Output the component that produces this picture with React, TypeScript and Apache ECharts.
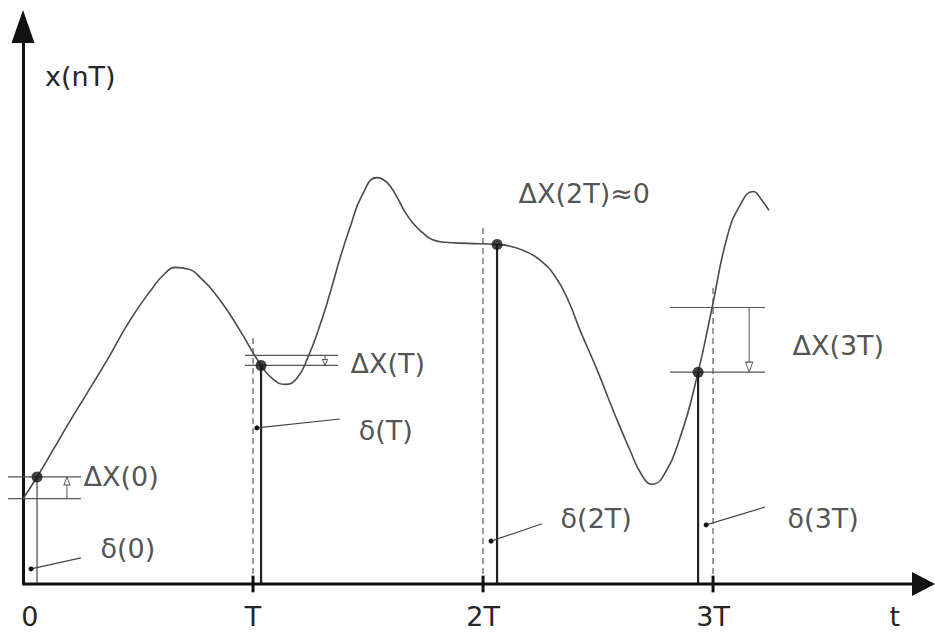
import React, { useEffect, useRef } from "react";
import * as echarts from "echarts";

// Continuous signal x(t): t in units of T, x in arbitrary amplitude units
const curveT = [0, 0.061, 0.130, 0.204, 0.278, 0.365, 0.465, 0.565, 0.617, 0.661, 0.717, 0.770, 0.857, 0.943, 1.035, 1.083, 1.139, 1.191, 1.239, 1.291, 1.335, 1.378, 1.422, 1.474, 1.539, 1.583, 1.626, 1.661, 1.696, 1.735, 1.778, 1.835, 1.930, 2.061, 2.117, 2.183, 2.248, 2.313, 2.370, 2.422, 2.496, 2.565, 2.639, 2.691, 2.735, 2.778, 2.857, 2.935, 2.996, 3.061, 3.117, 3.174, 3.213, 3.243];
const curveX = [1.53, 1.92, 2.40, 2.92, 3.42, 4.01, 4.73, 5.32, 5.57, 5.68, 5.65, 5.50, 5.09, 4.55, 3.92, 3.69, 3.58, 3.69, 4.07, 4.64, 5.22, 5.84, 6.40, 6.97, 7.29, 7.20, 6.94, 6.67, 6.47, 6.31, 6.18, 6.13, 6.11, 6.09, 6.06, 5.97, 5.81, 5.52, 5.09, 4.55, 3.84, 3.12, 2.40, 1.95, 1.79, 1.90, 2.63, 3.80, 4.96, 6.22, 6.79, 7.04, 6.88, 6.70];

// Actual sampling instants and sampled values
const sampleT = [0.061, 1.035, 2.061, 2.935];
const sampleX = [1.92, 3.92, 6.09, 3.80];
const sampleWidth = [1.3, 2.2, 2.2, 2.2];

// Ideal sampling instants nT (dashed) and the height of the dashed markers
const idealT = [1, 2, 3];
const idealTop = [4.46, 6.43, 5.36];

// Delta X brackets (for samples 0, 1, 3): ideal value, span and arrow
const bracketIdx = [0, 1, 3];
const bracketIdeal = [1.53, 4.10, 4.96];
const bracketFrom = [-0.065, 0.965, 2.813];
const bracketTo = [0.252, 1.370, 3.226];
const bracketArrowT = [0.191, 1.313, 3.157];
const bracketArrowSize = [[6, 8], [5, 6], [7, 10]];

// Leader lines for delta labels
const dotT = [0.035, 1.017, 2.035, 2.970];
const dotX = [0.27, 2.80, 0.77, 1.06];
const leaderEndT = [0.252, 1.378, 2.257, 3.226];
const leaderEndX = [0.47, 2.96, 1.08, 1.38];

// Text labels
const deltaXLabels = ["ΔX(0)", "ΔX(T)", "ΔX(2T)≈0", "ΔX(3T)"];
const deltaXLabelT = [0.261, 1.422, 2.152, 3.343];
const deltaXLabelX = [1.92, 3.96, 7.01, 4.28];
const deltaLabels = ["δ(0)", "δ(T)", "δ(2T)", "δ(3T)"];
const deltaLabelT = [0.335, 1.457, 2.335, 3.322];
const deltaLabelX = [0.645, 2.76, 1.18, 1.18];

// Axis range and tick labels
const tMin = -0.07;
const tMax = 3.915;
const tickPos = [0.03, 1, 2, 3, 3.79];
const tickNames = ["0", "T", "2T", "3T", "t"];
const tickMarks = [1, 2, 3];

const FONT = "DejaVu Sans";
const TEXT = "#262626";

export default function App() {
  const ref = useRef<HTMLDivElement>(null);

  useEffect(() => {
    if (!ref.current) return;
    const chart = echarts.init(ref.current, undefined, { renderer: "svg" });

    const thin = { color: "#555", width: 1.2, type: "solid" as const };
    const series: any[] = [];

    const seg = (pts: number[][], lineStyle: any, z = 3) => ({
      type: "line",
      data: pts,
      symbol: "none",
      clip: false,
      silent: true,
      z,
      lineStyle,
    });

    // t axis line with arrow head
    series.push({
      type: "line",
      clip: false,
      silent: true,
      z: 10,
      symbol: "triangle",
      showSymbol: true,
      data: [
        { value: [0, 0], symbol: "none" },
        { value: [tMax, 0], symbol: "triangle", symbolSize: [24, 23], symbolRotate: -90 },
      ],
      lineStyle: { color: "#111", width: 3 },
      itemStyle: { color: "#111" },
    });

    // curve
    series.push({
      type: "line",
      data: curveT.map((t, i) => [t, curveX[i]]),
      smooth: 0.5,
      symbol: "none",
      clip: false,
      silent: true,
      z: 4,
      lineStyle: { color: "#4a4a4a", width: 1.6 },
    });

    // dashed ideal sampling lines
    idealT.forEach((t, i) => {
      series.push(seg([[t, 0], [t, idealTop[i]]], { color: "#666", width: 1.3, type: [6, 4] }, 2));
    });

    // solid lines at actual sampling instants
    sampleT.forEach((t, i) => {
      series.push(seg([[t, 0], [t, sampleX[i]]], { color: i === 0 ? "#555" : "#222", width: sampleWidth[i] }, 3));
    });

    // tick marks crossing the t axis
    tickMarks.forEach((t) => {
      series.push(seg([[t, -0.15], [t, 0.15]], { color: "#111", width: 3 }, 11));
    });

    // brackets
    bracketIdx.forEach((si, k) => {
      const from = bracketFrom[k];
      const to = bracketTo[k];
      series.push(seg([[from, bracketIdeal[k]], [to, bracketIdeal[k]]], thin, 3));
      series.push(seg([[from, sampleX[si]], [to, sampleX[si]]], thin, 3));
      const up = sampleX[si] > bracketIdeal[k];
      const [w, h] = bracketArrowSize[k];
      series.push({
        type: "line",
        clip: false,
        silent: true,
        z: 5,
        symbol: "triangle",
        showSymbol: true,
        data: [
          { value: [bracketArrowT[k], bracketIdeal[k]], symbol: "none" },
          {
            value: [bracketArrowT[k], sampleX[si]],
            symbol: "triangle",
            symbolSize: [w, h],
            symbolRotate: up ? 0 : 180,
            symbolOffset: [0, up ? h / 2 : -h / 2],
          },
        ],
        lineStyle: { color: "#555", width: 1 },
        itemStyle: { color: "#fff", borderColor: "#555", borderWidth: 1 },
      });
    });

    // leader lines with dots
    dotT.forEach((t, i) => {
      series.push({
        type: "line",
        clip: false,
        silent: true,
        z: 5,
        symbol: "circle",
        symbolSize: 5,
        showSymbol: true,
        data: [
          { value: [t, dotX[i]] },
          { value: [leaderEndT[i], leaderEndX[i]], symbol: "none" },
        ],
        lineStyle: { color: "#444", width: 1.2 },
        itemStyle: { color: "#111" },
      });
    });

    // sampled points
    series.push({
      type: "scatter",
      data: sampleT.map((t, i) => [t, sampleX[i]]),
      symbolSize: 11,
      clip: false,
      silent: true,
      z: 8,
      itemStyle: { color: "#111" },
    });

    // text labels
    const labelSeries = (names: string[], ts: number[], xs: number[]) => ({
      type: "scatter",
      clip: false,
      silent: true,
      z: 9,
      symbolSize: 1,
      itemStyle: { color: "rgba(0,0,0,0)" },
      data: names.map((n, i) => ({ name: n, value: [ts[i], xs[i]] })),
      label: {
        show: true,
        position: "right",
        distance: 0,
        formatter: (p: any) => p.name,
        fontFamily: FONT,
        fontSize: 27,
        color: TEXT,
      },
    });
    series.push(labelSeries(deltaXLabels, deltaXLabelT, deltaXLabelX));
    series.push(labelSeries(deltaLabels, deltaLabelT, deltaLabelX));

    chart.setOption({
      animation: false,
      title: {
        text: "x(nT)",
        left: 45,
        top: 63,
        padding: 0,
        textStyle: { fontFamily: FONT, fontSize: 27, fontWeight: "normal", color: TEXT },
      },
      grid: { left: 6.9, right: 11.5, top: 26.5, bottom: 48 },
      xAxis: {
        type: "value",
        min: tMin,
        max: tMax,
        splitLine: { show: false },
        axisTick: { show: false },
        axisLine: { show: false },
        axisLabel: {
          customValues: tickPos,
          margin: 19,
          fontFamily: FONT,
          fontSize: 27,
          color: TEXT,
          formatter: (v: number) => {
            const i = tickPos.findIndex((p) => Math.abs(p - v) < 1e-6);
            return i >= 0 ? tickNames[i] : "";
          },
        },
      },
      yAxis: {
        type: "value",
        min: 0,
        max: 10,
        splitLine: { show: false },
        axisTick: { show: false },
        axisLabel: { show: false },
        axisLine: {
          show: true,
          onZero: true,
          symbol: ["none", "triangle"],
          symbolSize: [23, 33],
          lineStyle: { color: "#111", width: 3 },
        },
      },
      series,
    });

    return () => chart.dispose();
  }, []);

  return (
    <div
      ref={ref}
      style={{ position: "absolute", left: 0, top: 0, width: 935, height: 632, background: "#fff" }}
    />
  );
}
